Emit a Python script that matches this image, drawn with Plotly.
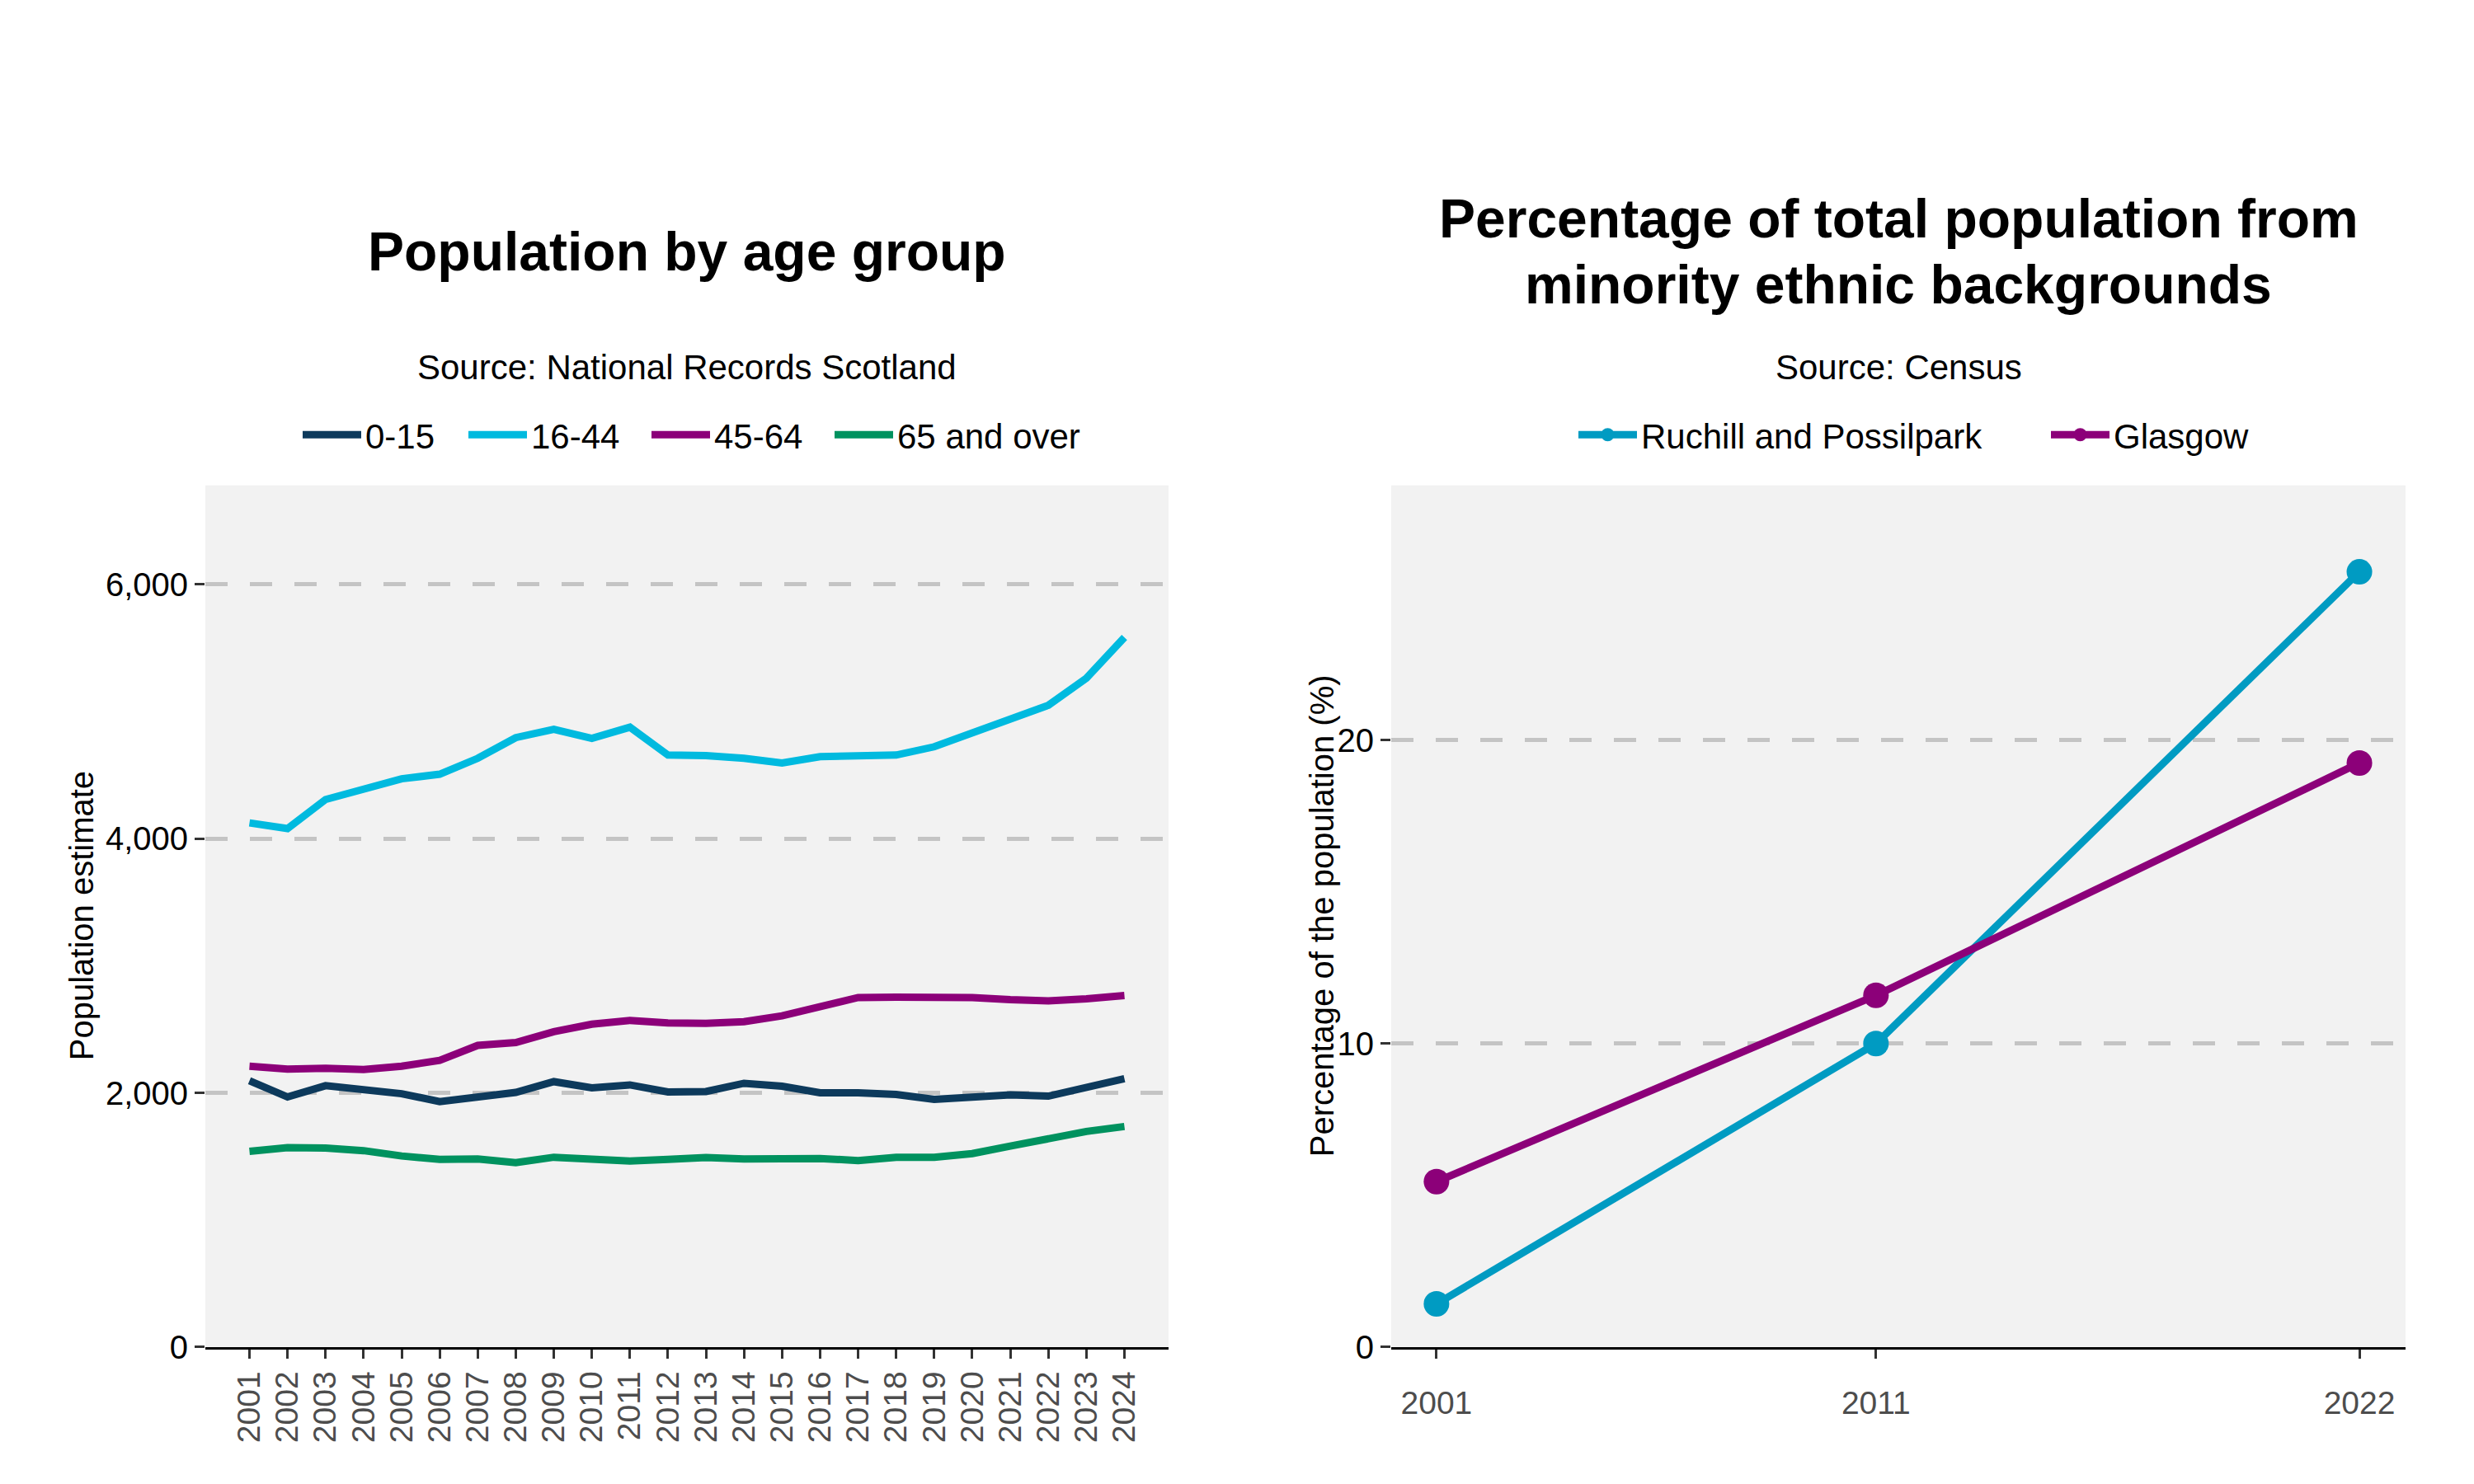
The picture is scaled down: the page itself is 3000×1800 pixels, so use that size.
import plotly.graph_objects as go
from plotly.subplots import make_subplots

# --- data ---
years = list(range(2001, 2025))
age_0_15 = [2095, 1967, 2056, 2029, 1993, 1931, 1961, 2003, 2088, 2039, 2062, 2007,
            2010, 2075, 2052, 2000, 2000, 1987, 1948, 1971, 1984, 1974, 2039, 2111]
age_16_44 = [4124, 4079, 4308, 4390, 4471, 4507, 4632, 4795, 4861, 4789, 4877, 4658,
             4654, 4632, 4596, 4645, 4651, 4658, 4723, 4831, 4936, 5050, 5263, 5584]
age_45_64 = [2209, 2187, 2193, 2183, 2209, 2255, 2373, 2396, 2481, 2540, 2570, 2550,
             2547, 2560, 2606, 2678, 2750, 2753, 2753, 2750, 2733, 2723, 2740, 2766]
age_65_over = [1539, 1568, 1565, 1545, 1503, 1476, 1480, 1450, 1493, 1473, 1463, 1476,
               1490, 1480, 1480, 1483, 1467, 1493, 1493, 1522, 1581, 1640, 1696, 1735]
age_names = ['0-15', '16-44', '45-64', '65 and over']

census_years = [2001, 2011, 2022]
ruchill_pct = [1.42, 10.0, 25.55]
glasgow_pct = [5.45, 11.59, 19.25]
area_names = ['Ruchill and Possilpark', 'Glasgow']

age_colors = ['#0D3A5C', '#00BADF', '#8C0079', '#00925F']
area_colors = ['#009BC2', '#8C0079']

W, H = 3000, 1800
FONT = 'Liberation Sans'

# where each legend entry's text starts (px from left), one legend per entry
legend_text_x = [442, 643, 865, 1087, 1989, 2562]


def py(px):
    # pixel row (from top) -> paper fraction
    return 1 - px / H


fig = make_subplots(rows=1, cols=2)

legend_ids = ['legend'] + ['legend%d' % i for i in range(2, 7)]

for i, (name, vals, col) in enumerate(zip(age_names, [age_0_15, age_16_44, age_45_64, age_65_over], age_colors)):
    fig.add_trace(go.Scatter(x=years, y=vals, mode='lines', name=name,
                             line=dict(color=col, width=9), legend=legend_ids[i]), 1, 1)

for j, (name, vals, col) in enumerate(zip(area_names, [ruchill_pct, glasgow_pct], area_colors)):
    fig.add_trace(go.Scatter(x=census_years, y=vals, mode='lines+markers', name=name,
                             line=dict(color=col, width=9),
                             marker=dict(color=col, size=31), legend=legend_ids[4 + j]), 1, 2)

grid = dict(showgrid=True, gridcolor='#C4C4C4', gridwidth=5, griddash='27px,27px',
            zeroline=False, showline=False, ticks='outside', ticklen=12, tickwidth=3,
            tickcolor='#333333', tickfont=dict(size=40, color='black'))
xstyle = dict(showgrid=False, zeroline=False, showline=True, linecolor='black', linewidth=3,
              ticks='outside', ticklen=11, tickwidth=3, tickcolor='#333333',
              tickfont=dict(size=39, color='#4D4D4D'))

legends = {}
for lid, tx in zip(legend_ids, legend_text_x):
    legends[lid] = dict(orientation='h', x=(tx - 80) / W, xanchor='left', y=py(534),
                        yanchor='middle', itemwidth=71, font=dict(size=42, color='black'),
                        bgcolor='rgba(0,0,0,0)')

fig.update_layout(
    xaxis=dict(domain=[249 / W, 1417 / W], range=[1999.84, 2025.16],
               tickvals=years, ticktext=[str(y) for y in years], tickangle=-90, **xstyle),
    yaxis=dict(domain=[py(1654), py(596)], range=[0, 6780],
               tickvals=[0, 2000, 4000, 6000], tickformat=',', **grid),
    xaxis2=dict(domain=[1687 / W, 2917 / W], range=[1999.97, 2023.05],
                tickvals=census_years, ticklabelstandoff=20, **xstyle),
    yaxis2=dict(domain=[py(1654), py(596)], range=[0, 28.4],
                tickvals=[0, 10, 20], **grid),
    showlegend=True,
    plot_bgcolor='#F2F2F2',
    paper_bgcolor='white',
    font=dict(family=FONT, color='black'),
    width=W, height=H,
    margin=dict(l=0, r=0, t=0, b=0),
    **legends,
)

# titles, sources and axis titles
fig.add_annotation(text='<b>Population by age group</b>', x=833 / W, y=py(309),
                   xref='paper', yref='paper', showarrow=False, font=dict(size=66),
                   xanchor='center', yanchor='middle')
fig.add_annotation(text='<b>Percentage of total population from</b>', x=2302 / W, y=py(268),
                   xref='paper', yref='paper', showarrow=False, font=dict(size=66),
                   xanchor='center', yanchor='middle')
fig.add_annotation(text='<b>minority ethnic backgrounds</b>', x=2302 / W, y=py(349),
                   xref='paper', yref='paper', showarrow=False, font=dict(size=66),
                   xanchor='center', yanchor='middle')
fig.add_annotation(text='Source: National Records Scotland', x=833 / W, y=py(451),
                   xref='paper', yref='paper', showarrow=False, font=dict(size=42),
                   xanchor='center', yanchor='middle')
fig.add_annotation(text='Source: Census', x=2302 / W, y=py(451),
                   xref='paper', yref='paper', showarrow=False, font=dict(size=42),
                   xanchor='center', yanchor='middle')
fig.add_annotation(text='Population estimate', x=99 / W, y=py(1125), textangle=-90,
                   xref='paper', yref='paper', showarrow=False, font=dict(size=40),
                   xanchor='center', yanchor='middle')
fig.add_annotation(text='Percentage of the population (%)', x=1603 / W, y=py(1125), textangle=-90,
                   xref='paper', yref='paper', showarrow=False, font=dict(size=40),
                   xanchor='center', yanchor='middle')

page_fix = ("var s = document.body.style; s.margin = '0px'; s.height = '1800px';"
            " s.overflow = 'hidden'; document.documentElement.style.overflow = 'hidden';")
fig.write_html("out.html", config={'displayModeBar': False}, post_script=page_fix)
